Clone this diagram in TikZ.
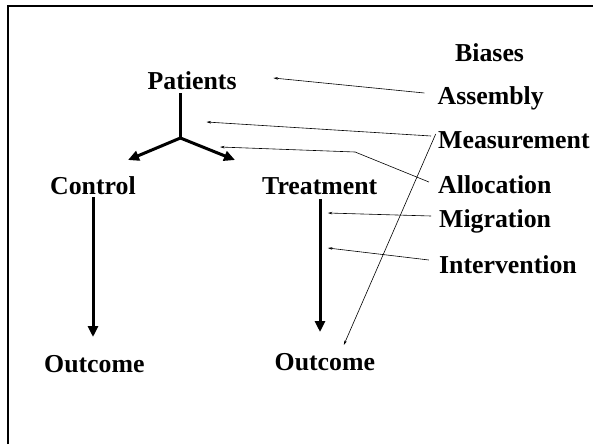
\documentclass[tikz,border=0pt]{standalone}
\usepackage{fontspec}
\setmainfont{Liberation Serif}
\usetikzlibrary{arrows.meta}
\begin{document}
\begin{tikzpicture}[x=1pt,y=-1pt,
  lbl/.style={inner sep=0pt,anchor=base west,font=\fontsize{25.8}{30}\selectfont\bfseries},
  thickarrow/.style={line width=3pt,-{Triangle[length=11pt,width=10pt]}},
  thinarrow/.style={line width=0.6pt,-{Stealth[length=4.5pt,width=2.6pt]}}]
\useasboundingbox (0,0) rectangle (593,444);
\draw[line width=2.2pt] (8,444) -- (8,6) -- (593,6);
% labels
\node[lbl] (bias) at (455,61) {Biases};
\node[lbl] (pat) at (147.5,89) {Patients};
\node[lbl] (asm) at (437.5,104.5) {Assembly};
\node[lbl] (mea) at (438,148) {Measurement};
\node[lbl] (all) at (438,193) {Allocation};
\node[lbl] (mig) at (439,227) {Migration};
\node[lbl] (int) at (439,273) {Intervention};
\node[lbl] (con) at (50,194) {Control};
\node[lbl] (tre) at (262,194) {Treatment};
\node[lbl] (outc) at (44,372) {Outcome};
\node[lbl] (outt) at (274.5,370) {Outcome};
% tree
\coordinate (ptop) at (180.4,93);
\coordinate (fork) at (180.4,138);
\coordinate (cl) at (128,160);
\coordinate (tr) at (235,160);
\coordinate (ctop) at (93,197);
\coordinate (cbot) at (93,337);
\coordinate (ttop) at (320,199);
\coordinate (tbot) at (320,332);
\draw[line width=3pt] (ptop) -- (fork);
\draw[thickarrow] (fork) -- (cl);
\draw[thickarrow] (fork) -- (tr);
\draw[thickarrow] (ctop) -- (cbot);
\draw[thickarrow] (ttop) -- (tbot);
% bias arrows
\coordinate (asmS) at (424.3,93);
\coordinate (asmT) at (273.4,78);
\coordinate (meaS) at (431,136);
\coordinate (meaT) at (206.5,122);
\coordinate (meaS2) at (435.7,134);
\coordinate (meaT2) at (343.8,345);
\coordinate (allS) at (428.9,182);
\coordinate (allB) at (355.1,152);
\coordinate (allT) at (220.1,147);
\coordinate (migS) at (431,216);
\coordinate (migT) at (327.9,213);
\coordinate (intS) at (428.9,260);
\coordinate (intT) at (327.9,248);
\draw[thinarrow] (asmS) -- (asmT);
\draw[thinarrow] (meaS) -- (meaT);
\draw[thinarrow] (meaS2) -- (meaT2);
\draw[thinarrow] (allS) -- (allB) -- (allT);
\draw[thinarrow] (migS) -- (migT);
\draw[thinarrow] (intS) -- (intT);
\end{tikzpicture}
\end{document}
